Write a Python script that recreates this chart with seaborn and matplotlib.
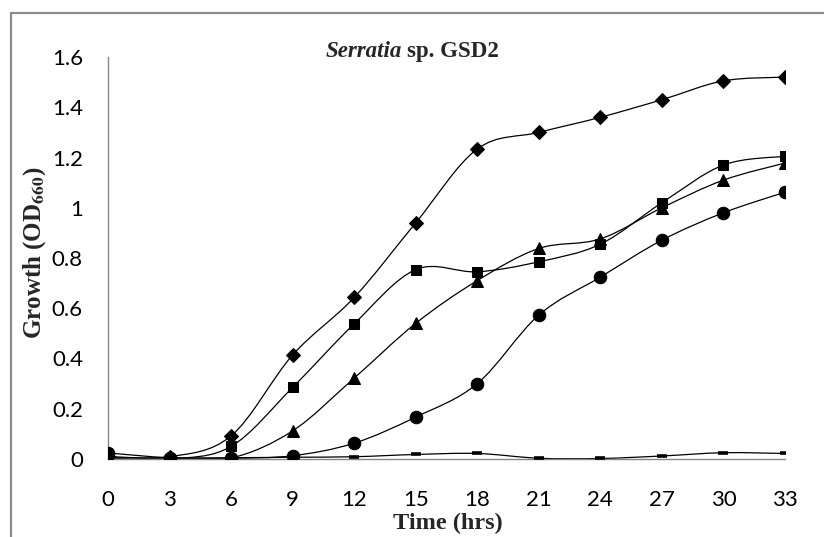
import numpy as np
import pandas as pd
import matplotlib
matplotlib.use("Agg")
import matplotlib.pyplot as plt
from matplotlib.path import Path
from matplotlib.patches import PathPatch
from matplotlib.lines import Line2D
import seaborn as sns

# --- Dados ---
tempo = [0, 3, 6, 9, 12, 15, 18, 21, 24, 27, 30, 33]
serie_losango = [0.01, 0.009, 0.092, 0.414, 0.643, 0.94, 1.234, 1.30, 1.36, 1.43, 1.505, 1.52]
serie_quadrado = [0.0, 0.0, 0.05, 0.285, 0.538, 0.754, 0.745, 0.785, 0.855, 1.02, 1.17, 1.205]
serie_triangulo = [0.0, 0.0, 0.004, 0.112, 0.322, 0.54, 0.71, 0.838, 0.876, 1.0, 1.11, 1.178]
serie_circulo = [0.024, 0.005, 0.003, 0.013, 0.063, 0.167, 0.30, 0.573, 0.724, 0.871, 0.98, 1.062]
serie_traco = [0.005, 0.004, 0.005, 0.007, 0.009, 0.018, 0.022, 0.003, 0.002, 0.012, 0.025, 0.022]
ticks_x = tempo
ticks_y = [0, 0.2, 0.4, 0.6, 0.8, 1, 1.2, 1.4, 1.6]
rotulos_y = ['0', '0.2', '0.4', '0.6', '0.8', '1', '1.2', '1.4', '1.6']

series = {
    'losango': (serie_losango, dict(marker='D', markersize=7)),
    'quadrado': (serie_quadrado, dict(marker='s', markersize=7)),
    'triangulo': (serie_triangulo, dict(marker='^', markersize=8.5)),
    'circulo': (serie_circulo, dict(marker='o', markersize=9)),
    'traco': (serie_traco, dict(marker='_', markersize=6.5, markeredgewidth=2.6)),
}

sns.set_theme(style="white")
plt.rcParams['font.family'] = ['Lato', 'DejaVu Sans']
plt.rcParams['mathtext.fontset'] = 'stix'

CINZA = '#868686'


def curva_suave(x, y):
    # curva tipo Excel (Catmull-Rom convertido para Bezier)
    x = np.asarray(x, float)
    y = np.asarray(y, float)
    pts = np.column_stack([x, y])
    n = len(pts)
    verts = [pts[0]]
    codes = [Path.MOVETO]
    for i in range(n - 1):
        p0 = pts[i - 1] if i > 0 else pts[i]
        p1 = pts[i]
        p2 = pts[i + 1]
        p3 = pts[i + 2] if i + 2 < n else pts[i + 1]
        c1 = p1 + (p2 - p0) / 6.0
        c2 = p2 - (p3 - p1) / 6.0
        verts += [c1, c2, p2]
        codes += [Path.CURVE4] * 3
    return Path(verts, codes)


fig = plt.figure(figsize=(8.24, 5.37), dpi=100)
ax = fig.add_axes([108 / 824, 1 - 459 / 537, (785 - 108) / 824, (459 - 57) / 537])

for nome, (valores, estilo) in series.items():
    df = pd.DataFrame({'Tempo': tempo, 'OD': valores})
    ax.add_patch(PathPatch(curva_suave(tempo, valores), facecolor='none',
                           edgecolor='black', lw=0.9, zorder=2))
    sns.lineplot(data=df, x='Tempo', y='OD', ax=ax, color='black', linestyle='none',
                 markeredgecolor='black', zorder=3, **estilo)

ax.set_xlim(0, 33)
ax.set_ylim(0, 1.6)
ax.set_xticks(ticks_x)
ax.set_xticklabels([str(t) for t in ticks_x], fontsize=16)
ax.set_yticks(ticks_y)
ax.set_yticklabels(rotulos_y, fontsize=16)
ax.tick_params(axis='x', length=0, pad=22, colors='black')
ax.tick_params(axis='y', length=0, pad=18, colors='black')
ax.set_xlabel('')
ax.set_ylabel('')
ax.grid(False)
for lado in ['top', 'right']:
    ax.spines[lado].set_visible(False)
for lado in ['left', 'bottom']:
    ax.spines[lado].set_color(CINZA)
    ax.spines[lado].set_linewidth(1.0)

# Títulos e rótulos (Times)
serif = ['Liberation Serif', 'DejaVu Serif']
fig.text(402 / 824, 1 - 57 / 537, 'Serratia', family=serif, fontsize=16.5,
         fontweight='bold', style='italic', ha='right', va='baseline')
fig.text(407 / 824, 1 - 57 / 537, 'sp. GSD2', family=serif, fontsize=16.5,
         fontweight='bold', ha='left', va='baseline')
fig.text(448 / 824, 1 - 523 / 537, 'Time (hrs)', family=serif, fontsize=17.5,
         fontweight='bold', ha='center', va='center')
fig.text(35 / 824, 1 - 253 / 537, r'Growth (OD$_{\mathbf{660}}$)', family=serif,
         fontsize=18, fontweight='bold', rotation=90, ha='center', va='center')

# moldura do gráfico (Excel)
fig.add_artist(Line2D([11 / 824, 11 / 824], [0, 1 - 13 / 537], color='#8c8c8c', lw=1.6))
fig.add_artist(Line2D([11 / 824, 1], [1 - 13 / 537, 1 - 13 / 537], color='#8c8c8c', lw=1.6))

fig.savefig('out.png', dpi=100)
